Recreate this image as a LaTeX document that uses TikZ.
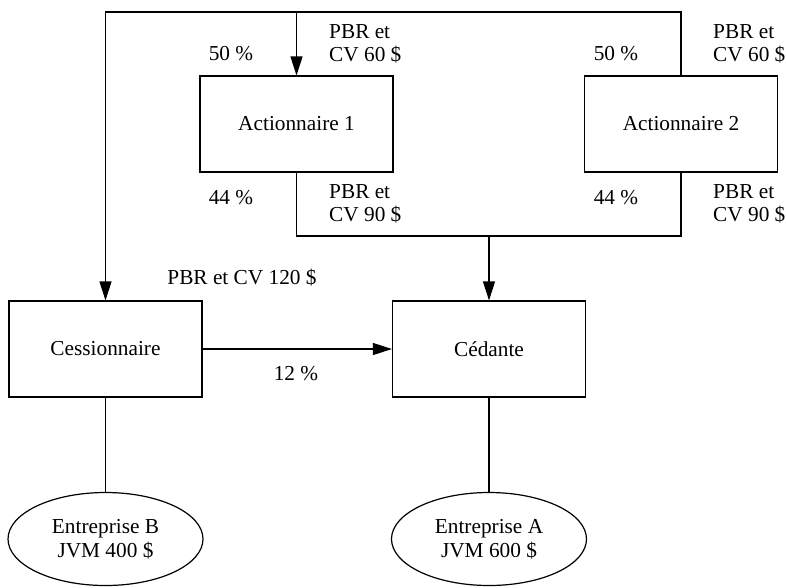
\documentclass[tikz,border=0pt]{standalone}
\usepackage{fontspec}
\setmainfont{Liberation Serif}
\usetikzlibrary{arrows.meta,shapes.geometric}
\begin{document}
\begin{tikzpicture}[x=1pt,y=-1pt,
  every node/.style={font=\fontsize{21.3}{23.5}\selectfont},
  line/.style={line width=1.2pt},
  arr/.style={line, -{Triangle[length=19pt,width=12pt]}},
  entity/.style={draw, line width=1.2pt, minimum width=193pt, minimum height=96pt, inner sep=0pt},
  firm/.style={draw, line width=1.2pt, ellipse, minimum width=195pt, minimum height=93pt, inner sep=0pt, align=center},
  lbl/.style={inner sep=0pt, align=left}]
\useasboundingbox (0,0) rectangle (786,587);

% entities
\node[entity] (a1)   at (296.5,124) {Actionnaire 1};
\node[entity] (a2)   at (681,124)   {Actionnaire 2};
\node[entity] (cess) at (105.5,349) {Cessionnaire};
\node[entity] (ced)  at (489,349)   {Cédante};
\node[firm]   (eb)   at (105.5,539) {Entreprise B\\JVM 400 \$};
\node[firm]   (ea)   at (489,539)   {Entreprise A\\JVM 600 \$};

% routing points
\coordinate (topL) at (105.5,12);
\coordinate (topR) at (681,12);
\coordinate (topA) at (a1.north |- topL);
\coordinate (botL) at (296.5,236);
\coordinate (botR) at (681,236);
\coordinate (botM) at (ced.north |- botL);

% connectors
\draw[arr] (a2.north) -- (topR) -- (topL) -- (cess.north);
\draw[arr] (topA) -- (a1.north);
\draw[line] (a1.south) -- (botL) -- (botR) -- (a2.south);
\draw[arr] (botM) -- (ced.north);
\draw[arr] (cess.east) -- (ced.west);
\draw[line] (cess.south) -- (eb.north);
\draw[line] (ced.south) -- (ea.north);

% labels
\node (p50a) at (231,54)  {50 \%};
\node (p44a) at (231,198) {44 \%};
\node (p50b) at (616,54)  {50 \%};
\node (p44b) at (616,198) {44 \%};
\node[lbl, anchor=west] (v60a) at (329,44)  {PBR et\\CV 60 \$};
\node[lbl, anchor=west] (v90a) at (329,204) {PBR et\\CV 90 \$};
\node[lbl, anchor=west] (v60b) at (713,44)  {PBR et\\CV 60 \$};
\node[lbl, anchor=west] (v90b) at (713,204) {PBR et\\CV 90 \$};
\node (v120) at (242,278) {PBR et CV 120 \$};
\node (p12)  at (296,374) {12 \%};
\end{tikzpicture}
\end{document}
